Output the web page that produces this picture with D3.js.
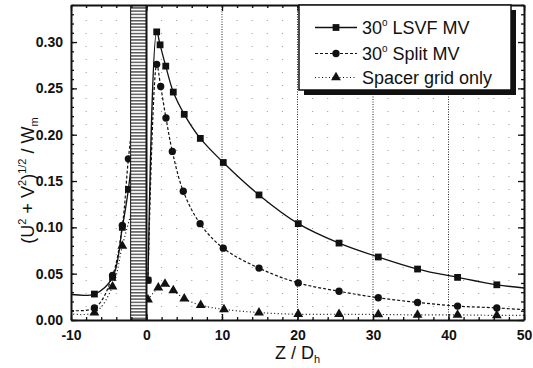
<!DOCTYPE html>
<html>
<head>
<meta charset="utf-8">
<script src="https://cdn.jsdelivr.net/npm/d3@7/dist/d3.min.js"></script>
<style>
  html, body { margin: 0; padding: 0; background: #fff; }
  svg { display: block; }
  text { font-family: "Liberation Sans", Arial, Helvetica, sans-serif; fill: #111; }
</style>
</head>
<body>
<svg id="chart" width="533" height="368"></svg>
<script>
// Axial distance from the spacer grid, Z / Dh
const zLSVF   = [-12, -6.9, -4.5, -3.2, -2.4, -1.2, 0.2, 1.35, 1.8, 2.55, 3.55, 5.0, 7.13, 10.17, 14.9, 20.1, 25.5, 30.7, 35.9, 41.2, 46.4, 52];
const vLSVF   = [0.030, 0.028, 0.046, 0.100, 0.141, 0.230, 0.043, 0.311, 0.297, 0.274, 0.246, 0.222, 0.196, 0.170, 0.135, 0.104, 0.083, 0.068, 0.055, 0.046, 0.038, 0.033];

const zSplit  = [-12, -6.9, -4.5, -3.2, -2.4, -1.2, 0.2, 1.35, 1.88, 2.58, 3.42, 4.87, 7.1, 10.17, 14.9, 20.1, 25.5, 30.7, 35.9, 41.2, 46.4, 52];
const vSplit  = [0.012, 0.013, 0.048, 0.102, 0.174, 0.260, 0.043, 0.276, 0.252, 0.218, 0.182, 0.139, 0.104, 0.0775, 0.056, 0.040, 0.031, 0.024, 0.019, 0.015, 0.013, 0.010];

const zSpacer = [-12, -6.9, -4.5, -3.2, -1.2, 0.2, 1.56, 2.45, 3.55, 5.0, 7.18, 10.26, 14.9, 20.1, 25.5, 30.7, 35.9, 41.2, 46.4, 52];
const vSpacer = [0.009, 0.008, 0.036, 0.080, 0.140, 0.022, 0.035, 0.039, 0.032, 0.023, 0.016, 0.0115, 0.008, 0.0062, 0.0062, 0.006, 0.0055, 0.0055, 0.005, 0.005];

const seriesNames = ["LSVF MV", "Split MV", "Spacer grid only"];
const seriesAngle = ["30", "30", null];

const xTicks = [-10, 0, 10, 20, 30, 40, 50];
const yTicks = [0, 0.05, 0.10, 0.15, 0.20, 0.25, 0.30];
const gridSpan = [-2.1, 0];   // axial extent of the spacer grid

// ---- layout & styles ----
const svg = d3.select("#chart");
const L = 71, R = 524, T = 5, B = 320;
const x = d3.scaleLinear().domain([-10, 50]).range([L, R]);
const y = d3.scaleLinear().domain([0, 0.34]).range([B, T]);

const styles = [
  { symbol: d3.symbolSquare,   size: 46, dash: null,    width: 1.3 },
  { symbol: d3.symbolCircle,   size: 42, dash: "3,2",   width: 1.2 },
  { symbol: d3.symbolTriangle, size: 42, dash: "1,2.5", width: 1.2 }
];

const series = [
  { name: seriesNames[0], angle: seriesAngle[0], pts: zLSVF.map((z, i) => [z, vLSVF[i]]) },
  { name: seriesNames[1], angle: seriesAngle[1], pts: zSplit.map((z, i) => [z, vSplit[i]]) },
  { name: seriesNames[2], angle: seriesAngle[2], pts: zSpacer.map((z, i) => [z, vSpacer[i]]) }
];

const defs = svg.append("defs");
defs.append("clipPath").attr("id", "plotClip")
  .append("rect").attr("x", L).attr("y", T).attr("width", R - L).attr("height", B - T);

const pat = defs.append("pattern").attr("id", "stripes")
  .attr("patternUnits", "userSpaceOnUse").attr("width", 8).attr("height", 3.2);
pat.append("rect").attr("width", 8).attr("height", 3.2).attr("fill", "#fff");
pat.append("rect").attr("y", 1).attr("width", 8).attr("height", 1.1).attr("fill", "#222");

const plot = svg.append("g").attr("clip-path", "url(#plotClip)");

// faint grid at the minor x positions
const minorX = d3.range(-10, 51, 2).filter(v => v % 10 !== 0);
plot.append("g").selectAll("line").data(minorX).join("line")
  .attr("x1", d => x(d)).attr("x2", d => x(d)).attr("y1", B).attr("y2", T)
  .attr("stroke", "#999").attr("stroke-width", 1).attr("stroke-dasharray", "1,12");

// darker dotted grid at the major x positions
plot.append("g").selectAll("line").data(xTicks.filter(v => v > -10 && v < 50 && v !== 0)).join("line")
  .attr("x1", d => x(d)).attr("x2", d => x(d)).attr("y1", B).attr("y2", T)
  .attr("stroke", "#222").attr("stroke-width", 1).attr("stroke-dasharray", "1,1.5");

// curves: upstream and downstream parts are drawn separately
const line = d3.line().x(d => x(d[0])).y(d => y(d[1])).curve(d3.curveCatmullRom.alpha(0.5));
series.forEach((s, i) => {
  const st = styles[i];
  [s.pts.filter(p => p[0] < 0), s.pts.filter(p => p[0] >= 0)].forEach(part => {
    plot.append("path").datum(part)
      .attr("d", line)
      .attr("fill", "none")
      .attr("stroke", "#111")
      .attr("stroke-width", st.width)
      .attr("stroke-dasharray", st.dash);
  });
});

// markers
series.forEach((s, i) => {
  const st = styles[i];
  plot.append("g").selectAll("path").data(s.pts).join("path")
    .attr("transform", d => `translate(${x(d[0])},${y(d[1])})`)
    .attr("d", d3.symbol().type(st.symbol).size(st.size))
    .attr("fill", "#111");
});

// spacer grid band
plot.append("rect")
  .attr("x", x(gridSpan[0])).attr("y", T)
  .attr("width", x(gridSpan[1]) - x(gridSpan[0])).attr("height", B - T)
  .attr("fill", "url(#stripes)").attr("stroke", "#111").attr("stroke-width", 1);
plot.append("line")
  .attr("x1", x(gridSpan[1])).attr("x2", x(gridSpan[1])).attr("y1", T).attr("y2", B)
  .attr("stroke", "#111").attr("stroke-width", 2);

// axes
const minorXTicks = d3.range(-10, 51, 2);
const minorYTicks = d3.range(0, 0.341, 0.01);

function styleAxis(g) {
  g.select(".domain").attr("stroke", "#111").attr("stroke-width", 2);
  g.selectAll(".tick line").attr("stroke", "#111").attr("stroke-width", 1.3);
  g.selectAll("text").attr("font-size", 14).attr("font-weight", "bold").attr("fill", "#111");
}

svg.append("g").attr("transform", `translate(0,${B})`)
  .call(d3.axisBottom(x).tickValues(minorXTicks).tickSize(-3).tickSizeOuter(0).tickFormat(""))
  .call(styleAxis);
svg.append("g").attr("transform", `translate(0,${B})`)
  .call(d3.axisBottom(x).tickValues(xTicks).tickSize(-6).tickSizeOuter(0).tickPadding(10).tickFormat(d => String(d)))
  .call(styleAxis).call(g => g.select(".domain").remove());

svg.append("g").attr("transform", `translate(0,${T})`)
  .call(d3.axisTop(x).tickValues(minorXTicks).tickSize(-3).tickSizeOuter(0).tickFormat(""))
  .call(styleAxis);
svg.append("g").attr("transform", `translate(0,${T})`)
  .call(d3.axisTop(x).tickValues(xTicks).tickSize(-6).tickSizeOuter(0).tickFormat(""))
  .call(styleAxis).call(g => g.select(".domain").remove());

svg.append("g").attr("transform", `translate(${L},0)`)
  .call(d3.axisLeft(y).tickValues(minorYTicks).tickSize(-3).tickSizeOuter(0).tickFormat(""))
  .call(styleAxis);
svg.append("g").attr("transform", `translate(${L},0)`)
  .call(d3.axisLeft(y).tickValues(yTicks).tickSize(-6).tickSizeOuter(0).tickPadding(8).tickFormat(d3.format(".2f")))
  .call(styleAxis).call(g => g.select(".domain").remove());

svg.append("g").attr("transform", `translate(${R},0)`)
  .call(d3.axisRight(y).tickValues(minorYTicks).tickSize(-3).tickSizeOuter(0).tickFormat(""))
  .call(styleAxis);
svg.append("g").attr("transform", `translate(${R},0)`)
  .call(d3.axisRight(y).tickValues(yTicks).tickSize(-6).tickSizeOuter(0).tickFormat(""))
  .call(styleAxis).call(g => g.select(".domain").remove());

// axis titles
const xt = svg.append("text").attr("x", (L + R) / 2).attr("y", 359)
  .attr("text-anchor", "middle").attr("font-size", 18);
xt.append("tspan").text("Z / D");
xt.append("tspan").attr("font-size", 11).attr("dy", 4).text("h");

const yt = svg.append("text").attr("transform", `translate(34,${(T + B) / 2 + 18}) rotate(-90)`)
  .attr("text-anchor", "middle").attr("font-size", 18);
yt.append("tspan").text("(U");
yt.append("tspan").attr("font-size", 11).attr("dy", -8).text("2");
yt.append("tspan").attr("dy", 8).text(" + V");
yt.append("tspan").attr("font-size", 11).attr("dy", -8).text("2");
yt.append("tspan").attr("dy", 8).text(")");
yt.append("tspan").attr("font-size", 11).attr("dy", -8).text("1/2");
yt.append("tspan").attr("dy", 8).text(" / W");
yt.append("tspan").attr("font-size", 11).attr("dy", 4).text("m");

// legend
const lg = { x: 299, y: 5, w: 212, h: 85, shadow: 5 };
const leg = svg.append("g");
leg.append("rect").attr("x", lg.x + lg.shadow).attr("y", lg.y + lg.shadow)
  .attr("width", lg.w).attr("height", lg.h).attr("fill", "#111");
leg.append("rect").attr("x", lg.x).attr("y", lg.y)
  .attr("width", lg.w).attr("height", lg.h).attr("fill", "#fff")
  .attr("stroke", "#111").attr("stroke-width", 1.5);

const rowY = [27.5, 53.5, 77.5];
series.forEach((s, i) => {
  const st = styles[i];
  const ry = rowY[i];
  leg.append("line").attr("x1", 315).attr("x2", 357).attr("y1", ry).attr("y2", ry)
    .attr("stroke", "#111").attr("stroke-width", st.width).attr("stroke-dasharray", st.dash);
  leg.append("path").attr("transform", `translate(336,${ry})`)
    .attr("d", d3.symbol().type(st.symbol).size(st.size)).attr("fill", "#111");
  const t = leg.append("text").attr("x", 362).attr("y", ry + 6.5).attr("font-size", 18);
  if (s.angle) {
    t.append("tspan").text(s.angle);
    t.append("tspan").attr("font-size", 10).attr("dy", -8).text("o");
    t.append("tspan").attr("dy", 8).text(" " + s.name);
  } else {
    t.append("tspan").text(s.name);
  }
});
</script>
</body>
</html>
